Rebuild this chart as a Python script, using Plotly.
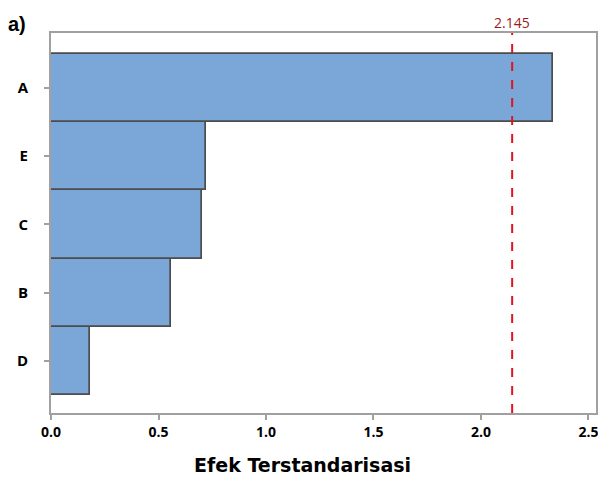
import plotly.graph_objects as go

categories = ["D", "B", "C", "E", "A"]
effects = [0.181, 0.559, 0.701, 0.723, 2.333]
ref_value = 2.145
ref_label = "2.145"
x_ticks = [0.0, 0.5, 1.0, 1.5, 2.0, 2.5]
x_ticklabels = ["0.0", "0.5", "1.0", "1.5", "2.0", "2.5"]
x_title = "Efek Terstandarisasi"
panel_label = "a)"

fig = go.Figure()
fig.add_trace(go.Bar(
    y=categories, x=effects, orientation="h", width=1.0,
    marker=dict(color="#7BA6D8", line=dict(color="#4C4C4C", width=1.7)),
    showlegend=False,
))

fig.add_shape(type="line", x0=ref_value, x1=ref_value, y0=0, y1=1,
              xref="x", yref="paper",
              line=dict(color="#E0141E", width=2, dash="dash"))
fig.add_annotation(x=ref_value, y=1, xref="x", yref="paper", text=ref_label,
                   showarrow=False, yanchor="bottom", yshift=-1,
                   font=dict(family="Open Sans", size=14, color="#9B1B1B"))
fig.add_annotation(x=0, y=1, xref="paper", yref="paper", text=panel_label,
                   showarrow=False, xanchor="left", yanchor="middle", xshift=-45, yshift=9,
                   font=dict(family="Liberation Sans, Arial", size=20, color="black", weight="bold"))
fig.add_annotation(x=0.4615, y=-0.137, xref="paper", yref="paper", text=x_title,
                   showarrow=False, xanchor="center", yanchor="middle",
                   font=dict(family="DejaVu Sans", size=19, color="black", weight="bold"))

fig.update_layout(
    width=598, height=478,
    margin=dict(l=51, r=2, t=33, b=65),
    plot_bgcolor="white", paper_bgcolor="white",
    bargap=0,
    xaxis=dict(range=[0, 2.535], tickvals=x_ticks, ticktext=x_ticklabels,
               automargin=False, ticklabeloverflow="allow",
               showgrid=False, zeroline=False, showline=True, mirror=True,
               linecolor="#A0A0A0", linewidth=2, ticks="outside", ticklen=5,
               tickcolor="#A0A0A0", tickwidth=1.5,
               tickfont=dict(family="Open Sans", size=14, color="black", weight="bold")),
    yaxis=dict(range=[-0.76, 4.8], automargin=False,
               showgrid=False, zeroline=False, showline=True, mirror=True,
               linecolor="#A0A0A0", linewidth=2, ticks="outside", ticklen=5,
               tickcolor="#A0A0A0", tickwidth=1.5,
               tickfont=dict(family="Open Sans", size=15, color="black", weight="bold"),
               ticklabelstandoff=13),
)

fig.write_html(
    "out.html",
    config={"displayModeBar": False},
    post_script="document.body.style.margin='0';document.body.style.overflow='hidden';",
)
